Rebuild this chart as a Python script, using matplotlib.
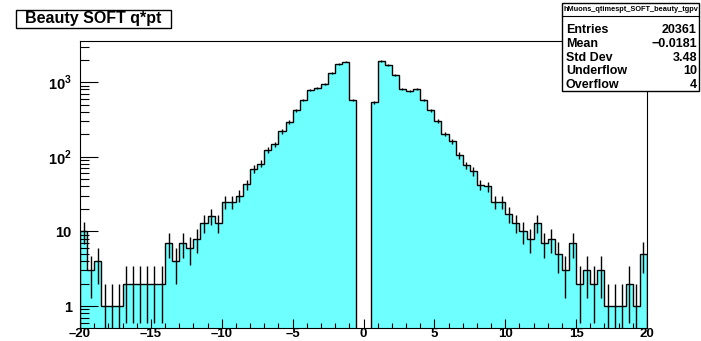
import numpy as np
import matplotlib
matplotlib.use('Agg')
import matplotlib.pyplot as plt
from matplotlib.ticker import FixedLocator, FixedFormatter, LogLocator, MultipleLocator, NullFormatter
from matplotlib.patches import Rectangle
from matplotlib.lines import Line2D

plt.rcParams['font.family'] = ['Liberation Sans', 'DejaVu Sans']
plt.rcParams['font.weight'] = 'bold'
plt.rcParams['mathtext.fontset'] = 'custom'
plt.rcParams['mathtext.rm'] = 'Liberation Sans:bold'
plt.rcParams['mathtext.bf'] = 'Liberation Sans:bold'

# histogram contents, 80 bins from -20 to 20
x_min, x_max = -20, 20
counts = [10, 3, 4, 1, 1, 1, 2, 2, 2, 2, 2, 2, 7, 4, 7, 6, 8, 13, 16, 13,
          25, 25, 30, 43, 69, 81, 124, 147, 220, 296, 420, 577, 785, 829, 955, 1316, 1740, 1883, 577,
          0, 0,
          538, 1924, 1700, 1260, 818, 755, 818, 577, 420, 305, 204, 163, 105, 77, 64, 42, 40, 25, 25,
          17, 13, 10, 8, 13, 7, 8, 5, 3, 7, 2, 3, 2, 3, 1, 1, 1, 2, 1, 5]

title = 'Beauty SOFT q*pt'
stats_name = 'hMuons_qtimespt_SOFT_beauty_tgpv'
stats_labels = ['Entries', 'Mean', 'Std Dev', 'Underflow', 'Overflow']
stats_values = ['20361', '\u22120.0181', '3.48', '10', '4']

xtick_vals = [-20, -15, -10, -5, 0, 5, 10, 15, 20]
xtick_labels = ['\u201320', '\u201315', '\u201310', '\u20135', '0', '5', '10', '15', '20']
ytick_vals = [1, 10, 100, 1000]
ytick_labels = ['1', '10', r'$10^{2}$', r'$10^{3}$']

W, H = 701, 341
fig = plt.figure(figsize=(W / 100, H / 100), dpi=100)

def fx(px):
    return px / W

def fy(py):
    return 1 - py / H

ax = fig.add_axes([fx(80), fy(327.7), 567 / W, (327.7 - 41) / H])

c = np.array(counts, dtype=float)
edges = np.linspace(x_min, x_max, len(c) + 1)
centers = 0.5 * (edges[:-1] + edges[1:])
floor = 1e-3
c_plot = np.where(c > 0, c, floor)

ax.stairs(c_plot, edges, baseline=floor, fill=True, color='#6effff', lw=0)
ax.stairs(c_plot, edges, baseline=floor, color='black', lw=1.0)
mask = c > 0
err = np.sqrt(c[mask])
ax.vlines(centers[mask], np.maximum(c[mask] - err, floor), c[mask] + err, color='black', lw=1.0)

ax.set_yscale('log')
ax.set_xlim(x_min, x_max)
ax.set_ylim(0.512, 3565)

ax.xaxis.set_major_locator(FixedLocator(xtick_vals))
ax.xaxis.set_major_formatter(FixedFormatter(xtick_labels))
ax.xaxis.set_minor_locator(MultipleLocator(1))
ax.yaxis.set_major_locator(FixedLocator(ytick_vals))
ax.yaxis.set_major_formatter(FixedFormatter(ytick_labels))
ax.yaxis.set_minor_locator(LogLocator(base=10, subs=np.arange(2, 10)))
ax.yaxis.set_minor_formatter(NullFormatter())

ax.tick_params(which='both', direction='in', top=False, right=False, color='black', width=0.8)
ax.tick_params(axis='x', which='major', length=6.5, pad=0.3, labelsize=9.5)
ax.tick_params(axis='x', which='minor', length=3.5)
ax.tick_params(axis='y', which='major', length=13, pad=6, labelsize=10.5)
ax.tick_params(axis='y', which='minor', length=6.5)
for s in ax.spines.values():
    s.set_linewidth(0.8)
    s.set_color('black')

# title box
fig.patches.append(Rectangle((fx(16), fy(28)), 155 / W, 18 / H, transform=fig.transFigure,
                             fc='white', ec='black', lw=1))
fig.text(fx(93.5), fy(19), title, ha='center', va='center', fontsize=11.5, fontweight='bold')

# stats box
fig.patches.append(Rectangle((fx(562), fy(91)), 137 / W, 88 / H, transform=fig.transFigure,
                             fc='white', ec='black', lw=1))
fig.lines.append(Line2D([fx(562), fx(699)], [fy(15.7), fy(15.7)], transform=fig.transFigure,
                        color='black', lw=0.8))
fig.text(fx(630.5), fy(9.5), stats_name, ha='center', va='center', fontsize=5.3, fontweight='bold')
for i, (lab, val) in enumerate(zip(stats_labels, stats_values)):
    yy = fy(30 + 13.8 * i)
    fig.text(fx(566), yy, lab, ha='left', va='center', fontsize=9, fontweight='bold')
    fig.text(fx(697), yy, val, ha='right', va='center', fontsize=9, fontweight='bold')

fig.savefig('out.png', dpi=100)
